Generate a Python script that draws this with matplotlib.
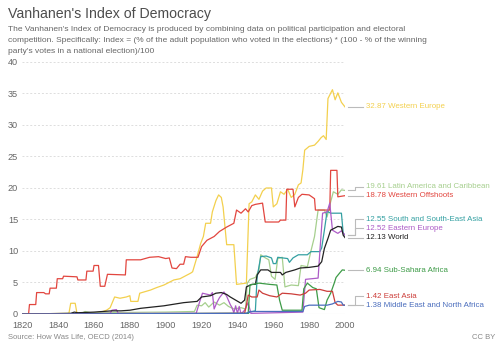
import numpy as np
import matplotlib.pyplot as plt

plt.rcParams['font.family'] = ['Liberation Sans', 'DejaVu Sans']

# data (year, value) per region
we_years = [1820, 1846, 1847, 1849.5, 1850.5, 1861, 1865, 1867, 1869, 1871.5, 1874.5, 1878, 1880, 1880.5, 1884.5,
            1885.5, 1891.5, 1895, 1899, 1904.5, 1908, 1910, 1914, 1915, 1917.5, 1919.5, 1921, 1922.3, 1925, 1926,
            1928, 1929.5, 1931, 1932, 1934, 1938, 1939.5, 1945, 1946.5, 1948, 1950, 1952, 1954, 1956, 1959,
            1960, 1962, 1964, 1966, 1968, 1970, 1972, 1974, 1975.5, 1976.5, 1977.5, 1980, 1983, 1985, 1986.7,
            1988, 1989.5, 1990.5, 1993, 1994.5, 1996, 1998, 2000]
we_vals = [0, 0.1, 1.7, 1.7, 0.1, 0.2, 0.4, 0.6, 1.0, 2.7, 2.5, 2.7, 2.9, 2.0, 2.0,
           3.3, 3.8, 4.2, 4.6, 5.4, 5.6, 5.9, 6.5, 6.7, 9.1, 11.2, 12.3, 14.4, 14.4, 16.2,
           18.0, 18.9, 18.5, 17.0, 11.0, 11.0, 4.7, 4.9, 17.5, 17.8, 18.9, 18.2, 19.5, 20.0, 20.0,
           17.0, 17.5, 19.4, 19.0, 19.8, 18.5, 19.0, 20.5, 20.8, 22.9, 26.0, 26.6, 26.8, 27.4, 28.0,
           28.3, 27.7, 34.2, 35.6, 34.0, 35.1, 33.6, 32.87]

la_years = [1820, 1853, 1855, 1858, 1900, 1916, 1917.5, 1920, 1922, 1924, 1927, 1930, 1932.5, 1935, 1938, 1942,
            1944.5, 1945.5, 1947, 1950, 1952, 1953, 1955, 1957.5, 1959, 1961, 1962.5, 1965, 1966.5, 1970, 1974,
            1975.5, 1979, 1981, 1983, 1985, 1988.5, 1990, 1992, 1993.5, 1996, 1998, 2000]
la_vals = [0, 0.1, 0.4, 0.2, 0.3, 0.4, 1.4, 1.3, 1.8, 1.1, 1.9, 1.4, 1.8, 1.2, 0.8, 1.0,
           0.8, 4.9, 5.5, 5.8, 7.0, 9.4, 9.0, 8.6, 6.0, 5.5, 8.8, 9.0, 4.3, 4.6, 4.5,
           7.7, 7.5, 10.0, 12.3, 16.5, 16.5, 15.4, 17.8, 19.4, 19.0, 19.7, 19.61]

wo_years = [1820, 1823.5, 1824, 1827.5, 1828, 1832, 1833, 1835, 1835.5, 1839, 1839.5, 1842.5, 1843, 1850.5, 1851,
            1855.5, 1856, 1859.5, 1860, 1862.5, 1863.5, 1866, 1867.5, 1877.5, 1878, 1886, 1891, 1896, 1900, 1902,
            1903.5, 1906, 1908, 1910, 1911, 1914, 1918, 1920, 1923, 1927, 1930, 1934, 1938, 1939.5, 1942,
            1944.5, 1946, 1948, 1950, 1954, 1955.5, 1963, 1964, 1967, 1967.5, 1971, 1972, 1974, 1976, 1980,
            1983, 1983.5, 1991.5, 1992, 1995.5, 1996, 2000]
wo_vals = [0, 0, 1.5, 1.5, 3.4, 3.4, 3.2, 3.2, 4.1, 4.1, 5.6, 5.6, 6.0, 5.9, 5.4,
           5.4, 6.8, 6.8, 7.7, 7.7, 4.4, 4.4, 6.3, 6.2, 8.6, 8.6, 9.0, 9.1, 8.8, 8.9,
           7.3, 7.2, 7.9, 7.9, 9.1, 9.0, 9.0, 10.7, 11.7, 12.3, 13.1, 13.8, 14.4, 16.5, 16.0,
           16.7, 16.2, 17.2, 17.4, 17.6, 14.6, 14.6, 14.9, 14.9, 19.8, 19.8, 17.0, 18.5, 19.0, 18.9,
           18.3, 16.5, 16.5, 22.8, 22.8, 18.6, 18.78]

sa_years = [1820, 1946, 1947, 1950, 1951, 1953, 1956, 1959, 1960, 1961.5, 1962.5, 1968, 1969, 1971, 1974, 1979,
            1981, 1986, 1987, 1988.5, 1990, 1992, 1995, 1998, 1999, 2000]
sa_vals = [0, 0.1, 0.3, 0.5, 5.9, 9.1, 9.2, 8.9, 8.0, 8.0, 9.0, 8.8, 8.2, 8.9, 9.4, 9.4,
           9.9, 9.9, 10.5, 13.3, 16.3, 16.0, 16.0, 16.0, 12.8, 12.55]

ee_years = [1820, 1869, 1870, 1872.5, 1873.5, 1917, 1919, 1920.5, 1925, 1926, 1927, 1928.5, 1930, 1932.5, 1934,
            1936, 1937, 1938, 1939, 1940, 1941, 1942, 1944, 1946, 1947.5, 1976.5, 1977.5, 1978, 1985, 1986,
            1987.5, 1990, 1991.5, 1993, 1996, 1998, 2000]
ee_vals = [0, 0.1, 0.6, 0.7, 0.1, 0.1, 2.0, 3.3, 3.0, 3.4, 0.8, 1.8, 2.6, 3.5, 2.8,
           1.5, 1.0, 0.2, 1.3, 0.1, 1.2, 0.0, 0.6, 1.8, 0.1, 0.3, 3.8, 5.5, 5.7, 10.0,
           16.0, 16.2, 17.6, 13.3, 12.8, 13.2, 12.52]

w_years = [1820, 1847, 1849, 1851, 1860, 1870, 1875, 1880, 1886, 1899, 1910, 1917.5, 1920, 1925, 1928, 1931,
           1934, 1936, 1939, 1942, 1944, 1945, 1948, 1950, 1951, 1953, 1957, 1959, 1964, 1965, 1967, 1972,
           1975, 1980, 1985, 1987, 1988.5, 1990.5, 1992, 1996, 1998, 1999, 2000]
w_vals = [0, 0.1, 0.3, 0.2, 0.3, 0.5, 0.5, 0.6, 0.9, 1.3, 1.8, 2.0, 2.7, 2.9, 3.3, 3.4,
          3.1, 2.7, 2.2, 1.7, 2.2, 4.3, 4.7, 4.7, 6.2, 7.0, 7.0, 6.6, 6.6, 6.2, 6.6, 7.0,
          7.3, 7.4, 7.6, 8.3, 10.4, 12.0, 13.3, 13.9, 13.8, 12.5, 12.13]

ssa_years = [1820, 1946, 1947, 1952, 1958, 1962, 1963.5, 1965, 1976, 1977, 1979, 1982, 1984, 1985.5, 1988.5,
             1990, 1992, 1994, 1995, 1997, 1998.5, 2000]
ssa_vals = [0, 0.1, 4.6, 4.9, 4.7, 4.6, 2.2, 0.6, 0.6, 4.0, 4.9, 4.2, 4.0, 1.0, 0.7,
            2.2, 3.3, 4.9, 5.8, 6.5, 7.0, 6.94]

ea_years = [1820, 1944, 1945, 1946, 1948, 1951, 1952, 1954, 1958, 1962, 1965, 1970, 1975, 1978, 1980, 1986,
            1990, 1993, 1994.5, 1996, 2000]
ea_vals = [0, 0.1, 1.4, 3.0, 2.7, 2.7, 3.8, 3.3, 2.9, 2.7, 3.3, 3.2, 3.0, 3.3, 3.8, 3.9,
           3.6, 3.6, 1.8, 1.4, 1.42]

me_years = [1820, 1945, 1947, 1976.5, 1977.5, 1980, 1990, 1993, 1996, 1998, 1999, 2000]
me_vals = [0, 0.1, 0.4, 0.4, 1.2, 1.4, 1.4, 1.6, 2.0, 1.9, 1.4, 1.38]

names = ['Western Europe', 'Latin America and Caribbean', 'Western Offshoots', 'South and South-East Asia',
         'Eastern Europe', 'World', 'Sub-Sahara Africa', 'East Asia', 'Middle East and North Africa']
series = [(we_years, we_vals), (la_years, la_vals), (wo_years, wo_vals), (sa_years, sa_vals),
          (ee_years, ee_vals), (w_years, w_vals), (ssa_years, ssa_vals), (ea_years, ea_vals),
          (me_years, me_vals)]
colors = ['#f3d04e', '#a6cf8e', '#e2463f', '#34a0a2', '#ad5cc7', '#222222', '#3d9b47', '#cc3e3a', '#4a6dbd']

fig = plt.figure(figsize=(5, 3.53), dpi=100)
ax = fig.add_axes([0.0446, 0.1105, 0.6454, 0.7139])

for (yrs, vals), c in zip(series, colors):
    ax.plot(yrs, vals, color=c, lw=0.9, solid_joinstyle='round')

ax.set_xlim(1820, 2000)
ax.set_ylim(0, 40)
ax.set_xticks(np.arange(1820, 2001, 20))
ax.set_yticks(np.arange(0, 41, 5))
for v in range(5, 41, 5):
    ax.axhline(v, color='#dddddd', lw=0.7, ls=(0, (2, 2)), zorder=0)
ax.axhline(0, color='#dddddd', lw=0.8, zorder=0)
for s in ax.spines.values():
    s.set_visible(False)
ax.tick_params(length=0, labelsize=6.6, colors='#666666')
ax.tick_params(axis='y', pad=3)
ax.tick_params(axis='x', pad=5)

# end labels, pushed apart so they do not overlap
ends = [v[-1] for _, v in series]
order = np.argsort(ends)
label_y = {}
prev = -10
for i in order:
    y = max(ends[i], prev + 1.45)
    label_y[i] = y
    prev = y
for i, (name, c) in enumerate(zip(names, colors)):
    y0 = ends[i]
    y1 = label_y[i]
    ax.plot([2001.5, 2005.5, 2005.5, 2010], [y0, y0, y1, y1], color='#bbbbbb', lw=0.8, clip_on=False)
    ax.text(2011.7, y1, '%.2f %s' % (y0, name), color=c, fontsize=5.65, va='center', ha='left')

fig.text(0.016, 0.979, "Vanhanen's Index of Democracy", fontsize=10.2, color='#4d4d4d', va='top')
sub_lines = ["The Vanhanen's Index of Democracy is produced by combining data on political participation and electoral",
             "competition. Specifically: Index = (% of the adult population who voted in the elections) * (100 - % of the winning",
             "party's votes in a national election)/100"]
for k, line in enumerate(sub_lines):
    fig.text(0.016, 1 - (30.8 + 11 * k) / 353, line, fontsize=6.05, color='#666666', va='baseline')
fig.text(0.016, 0.035, 'Source: How Was Life, OECD (2014)', fontsize=5.5, color='#888888', va='bottom')
fig.text(0.99, 0.035, 'CC BY', fontsize=5.5, color='#888888', va='bottom', ha='right')

fig.savefig('out.png', dpi=100)
